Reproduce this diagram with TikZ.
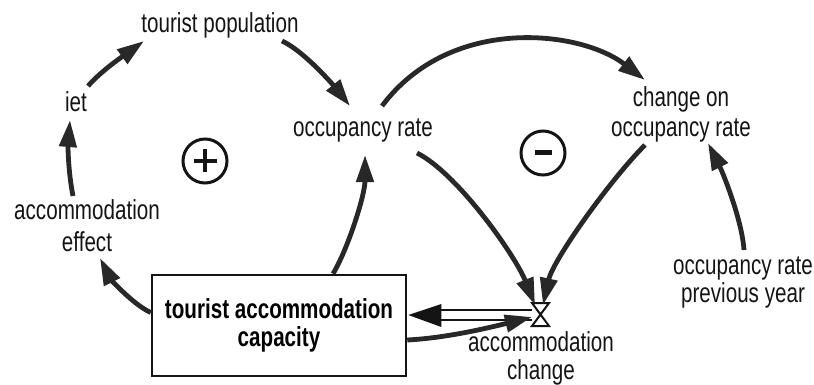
\documentclass[tikz,border=0pt]{standalone}
\usepackage{fontspec}
\usepackage{graphicx}
\setmainfont{Liberation Sans}
\usetikzlibrary{arrows.meta}
\definecolor{ink}{RGB}{20,20,20}
\definecolor{linkgray}{RGB}{40,40,40}
% narrow-set label text
\newcommand{\nw}[1]{\scalebox{0.75}[1]{#1}}
\begin{document}
\begin{tikzpicture}[x=1pt,y=-1pt,
  lbl/.style={font=\fontsize{27.5}{30}\selectfont, inner sep=0pt, align=center, text=ink, anchor=base},
  link/.style={line width=4.8pt, draw=linkgray, -{Triangle[length=27pt,width=17pt]}},
  stockbox/.style={draw=ink, line width=2.5pt, minimum width=254pt, minimum height=101pt,
    inner sep=0pt, align=center, font=\fontsize{27.5}{28}\selectfont\bfseries},
  loopsign/.style={circle, draw=ink, line width=3pt, minimum size=44pt, inner sep=0pt},
  pipe/.style={draw=ink, line width=2pt}
]
\useasboundingbox (0,0) rectangle (814,385);

% variables (base anchor = baseline of the last line)
\node[lbl] (tp)   at (220,33)  {\nw{tourist population}};
\node[lbl] (iet)  at (76,112)  {\nw{iet}};
\node[lbl] (occ)  at (363,137) {\nw{occupancy rate}};
\node[lbl, font=\fontsize{27.5}{30}\selectfont] (chg)  at (681,137) {\nw{change on}\\\nw{occupancy rate}};
\node[lbl, font=\fontsize{27.5}{32}\selectfont] (eff)  at (87,251)  {\nw{accommodation}\\\nw{effect}};
\node[lbl, font=\fontsize{27.5}{28}\selectfont] (prev) at (743,302) {\nw{occupancy rate}\\\nw{previous year}};
\node[lbl, font=\fontsize{27.5}{28}\selectfont] (ac)   at (541,379) {\nw{accommodation}\\\nw{change}};

% stock
\node[stockbox] (stock) at (279,325.5) {\nw{tourist accommodation}\\\nw{capacity}};

% flow valve
\coordinate (valve) at (540,314);
\draw[pipe, line join=miter]
  ([shift={(-8,-11)}]valve) -- ([shift={(9,-11)}]valve) -- ([shift={(-8,12)}]valve)
  -- ([shift={(9,12)}]valve) -- cycle;

% flow pipe into the stock
\draw[pipe] ([shift={(-8,-4)}]valve) -- ([shift={(34,-15.5)}]stock.east);
\draw[pipe] ([shift={(-8,6)}]valve) -- ([shift={(34,-5.5)}]stock.east);
\fill[ink] ([shift={(1,-10.5)}]stock.east) -- ([shift={(34,-21.5)}]stock.east)
  -- ([shift={(34,1.5)}]stock.east) -- cycle;

% loop polarity markers
\node[loopsign] (pos) at (205,161) {};
\draw[ink, line width=3.5pt] ([shift={(-11.5,0)}]pos.center) -- ([shift={(11.5,0)}]pos.center);
\draw[ink, line width=3.5pt] ([shift={(0,-11.5)}]pos.center) -- ([shift={(0,11.5)}]pos.center);
\node[loopsign] (neg) at (543,153) {};
\draw[ink, line width=5pt] ([shift={(-8.5,0)}]neg.center) -- ([shift={(8.5,0)}]neg.center);

% causal links
\draw[link] ([shift={(12,-26)}]iet.base) .. controls +(14,-16) and +(-18,13) .. ([shift={(-76,8)}]tp.base);
\draw[link] ([shift={(62,8)}]tp.base) .. controls +(22,10) and +(-16,-20) .. ([shift={(-13,-31)}]occ.base);
\draw[link] ([shift={(-14,-55)}]eff.base) .. controls +(-5,-25) and +(-2,25) .. ([shift={(-6,8)}]iet.base);
\draw[link] ([shift={(0,-13)}]stock.west) .. controls +(-18,-8) and +(10,20) .. ([shift={(13,7)}]eff.base);
\draw[link] ([shift={(54,0)}]stock.north) .. controls +(15,-25) and +(0,40) .. ([shift={(2,18)}]occ.base);
\draw[link] ([shift={(19,-31)}]occ.base) .. controls +(68,-91) and +(-65,-50) .. ([shift={(-36,-57)}]chg.base);
\draw[link] ([shift={(54,16)}]occ.base) .. controls +(40,20) and +(-20,-50) .. ([shift={(-5,-9)}]valve);
\draw[link] ([shift={(-36,8)}]chg.base) .. controls +(-35,35) and +(10,-45) .. ([shift={(3,-9)}]valve);
\draw[link] ([shift={(1,-52)}]prev.base) .. controls +(-2,-30) and +(15,30) .. ([shift={(27,6)}]chg.base);
\draw[link] ([shift={(0,14.5)}]stock.east) .. controls +(40,-2) and +(-40,10) .. ([shift={(-8,3)}]valve);
\end{tikzpicture}
\end{document}
